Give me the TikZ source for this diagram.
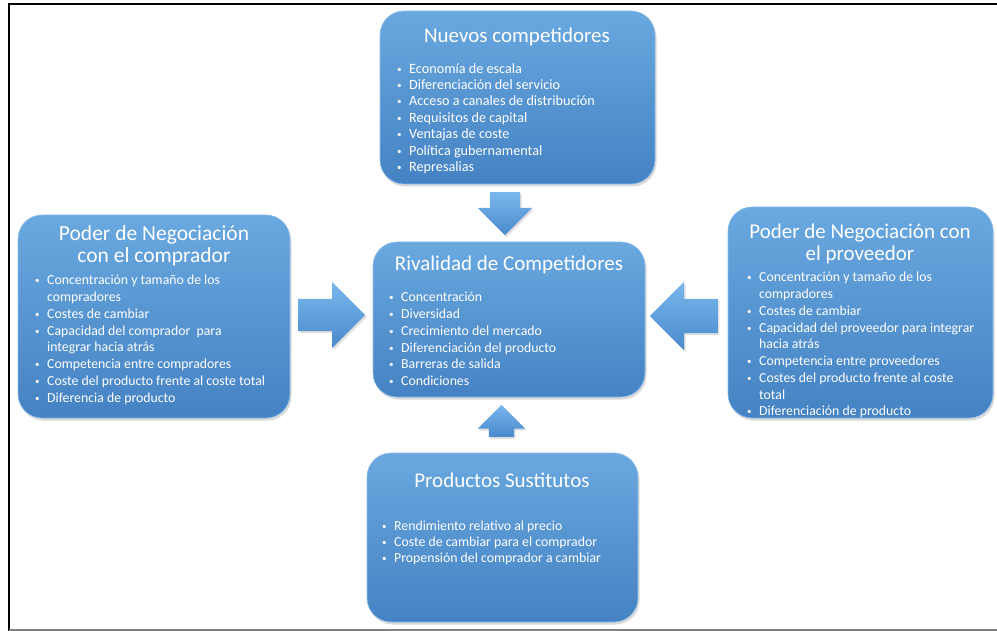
\documentclass[tikz,border=0pt]{standalone}
\usepackage{fontspec}
\setmainfont{Carlito}
\usetikzlibrary{shapes.arrows,shadows,positioning}

\definecolor{boxtop}{HTML}{6AA8E0}
\definecolor{boxbot}{HTML}{4482C3}
\definecolor{boxrim}{HTML}{8DBDEA}
\definecolor{arrowtop}{HTML}{7AB7EE}
\definecolor{arrowbot}{HTML}{4A8ACB}

% bullet items
\newcommand{\itm}[1]{\makebox[12pt][l]{\raisebox{1pt}{\fontsize{9}{9}\selectfont\textbullet}}#1}
\newcommand{\cnt}[1]{\hspace*{12pt}#1}

\begin{document}
\begin{tikzpicture}[x=1pt, y=-1pt,
    forcebox/.style={draw=boxrim, line width=0.6pt, rounded corners=24pt,
        top color=boxtop, bottom color=boxbot, inner sep=0pt,
        drop shadow={opacity=0.3, shadow xshift=1.5pt, shadow yshift=-2.5pt}},
    boxtitle/.style={text=white, font=\fontsize{21}{23}\selectfont, align=center, inner sep=0pt},
    boxlist/.style={text=white, align=left, inner sep=0pt, anchor=north west},
    forcearrow/.style={single arrow, draw=none, anchor=tail,
        top color=arrowtop, bottom color=arrowbot,
        drop shadow={opacity=0.25, shadow xshift=1.5pt, shadow yshift=-2pt}}]
    \useasboundingbox (0,0) rectangle (997,631);

    % frame
    \draw[line width=2pt] (997,4) -- (9,4) -- (9,631);
    \draw[gray, line width=1.5pt] (9,630) -- (997,630);

    % boxes
    \node[forcebox, minimum width=275pt, minimum height=173pt] (nuevos) at (517.5,97.5) {};
    \node[forcebox, minimum width=272pt, minimum height=155pt] (rivalidad) at (509,319.5) {};
    \node[forcebox, minimum width=271pt, minimum height=169pt] (sustitutos) at (502.5,537.5) {};
    \node[forcebox, minimum width=272pt, minimum height=203pt] (comprador) at (154,316.5) {};
    \node[forcebox, minimum width=265pt, minimum height=211pt] (proveedor) at (860.5,312.5) {};

    % titles
    \node[boxtitle] (tnuevos) at (517,37) {Nuevos competidores};
    \node[boxtitle] (trivalidad) at (509,265) {Rivalidad de Competidores};
    \node[boxtitle] (tsustitutos) at (502,480) {Productos Sustitutos};
    \node[boxtitle, font=\fontsize{21.5}{22.5}\selectfont] (tcomprador) at (154,246) {Poder de Negociación\\con el comprador};
    \node[boxtitle, font=\fontsize{21}{22.5}\selectfont] (tproveedor) at (860,244) {Poder de Negociación con\\el proveedor};

    % lists
    \node[boxlist, font=\fontsize{14.2}{16.4}\selectfont] (lnuevos) at (397,63) {%
        \itm{Economía de escala}\\
        \itm{Diferenciación del servicio}\\
        \itm{Acceso a canales de distribución}\\
        \itm{Requisitos de capital}\\
        \itm{Ventajas de coste}\\
        \itm{Política gubernamental}\\
        \itm{Represalias}};
    \node[boxlist, font=\fontsize{13.8}{16.8}\selectfont] (lrivalidad) at (389,292) {%
        \itm{Concentración}\\
        \itm{Diversidad}\\
        \itm{Crecimiento del mercado}\\
        \itm{Diferenciación del producto}\\
        \itm{Barreras de salida}\\
        \itm{Condiciones}};
    \node[boxlist, font=\fontsize{13.8}{16}\selectfont] (lsustitutos) at (382,521) {%
        \itm{Rendimiento relativo al precio}\\
        \itm{Coste de cambiar para el comprador}\\
        \itm{Propensión del comprador a cambiar}};
    \node[boxlist, font=\fontsize{13.8}{16.8}\selectfont] (lcomprador) at (35,275) {%
        \itm{Concentración y tamaño de los}\\
        \cnt{compradores}\\
        \itm{Costes de cambiar}\\
        \itm{Capacidad del comprador\ \ para}\\
        \cnt{integrar hacia atrás}\\
        \itm{Competencia entre compradores}\\
        \itm{Coste del producto frente al coste total}\\
        \itm{Diferencia de producto}};
    \node[boxlist, font=\fontsize{13.8}{16.75}\selectfont] (lproveedor) at (747,272) {%
        \itm{Concentración y tamaño de los}\\
        \cnt{compradores}\\
        \itm{Costes de cambiar}\\
        \itm{Capacidad del proveedor para integrar}\\
        \cnt{hacia atrás}\\
        \itm{Competencia entre proveedores}\\
        \itm{Costes del producto frente al coste}\\
        \cnt{total}\\
        \itm{Diferenciación de producto}};

    % arrows
    \node[forcearrow, inner xsep=0pt, inner ysep=16pt, minimum height=67pt, single arrow head extend=17pt] (acomprador) at (298,315) {};
    \node[forcearrow, inner xsep=0pt, inner ysep=17pt, shape border rotate=180, minimum height=68pt, single arrow head extend=17pt] (aproveedor) at (718,316) {};
    \node[forcearrow, inner xsep=15pt, inner ysep=0pt, shape border rotate=270, minimum height=43pt, single arrow head extend=12pt] (anuevos) at (505,192) {};
    \node[forcearrow, inner xsep=12.5pt, inner ysep=0pt, shape border rotate=90, minimum height=32pt, single arrow head extend=11pt] (asustitutos) at (501.5,437) {};
\end{tikzpicture}
\end{document}
